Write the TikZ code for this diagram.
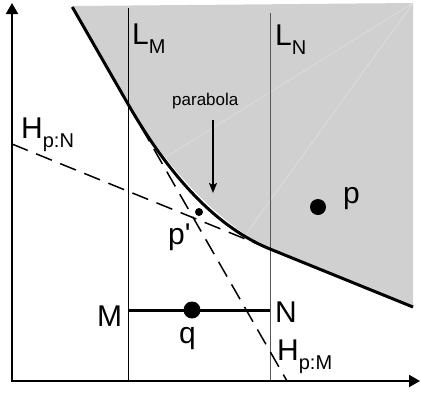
\documentclass[tikz,border=0pt]{standalone}
\usepackage{fontspec}
\setmainfont{Liberation Sans}
\usetikzlibrary{arrows.meta,calc}
\definecolor{regiongray}{RGB}{208,208,208}
\definecolor{faintline}{RGB}{224,224,224}
\definecolor{lngray}{RGB}{85,85,85}
\newcommand{\lowsub}[1]{\raisebox{-9pt}{\fontsize{20}{20}\selectfont #1}}
\begin{document}
\begin{tikzpicture}[x=1pt,y=-1pt,
  biglabel/.style={font=\fontsize{30}{30}\selectfont, inner sep=0pt, anchor=base west},
  smalllabel/.style={font=\fontsize{17}{17}\selectfont, inner sep=0pt, anchor=base west},
  thinline/.style={line width=1pt},
  dashline/.style={line width=1.5pt, dash pattern=on 17pt off 9pt},
  thickline/.style={line width=3pt},
  axisline/.style={line width=2pt, {Triangle[length=11pt,width=12pt]}-{Triangle[length=11pt,width=12pt]}},
  dotnode/.style={circle, fill=black, inner sep=0pt}]
\useasboundingbox (0,0) rectangle (421,392);
% key points
\coordinate (A) at (72.3,7);
\coordinate (B) at (128,104);
\coordinate (C) at (270,249);
\coordinate (D) at (413,307);
\coordinate (HMend) at (287,381);
\coordinate (HNstart) at (12,144);
\coordinate (K) at (intersection of B--HMend and HNstart--C);
\coordinate (K1) at ($(B)!2/3!(K)$);
\coordinate (K2) at ($(C)!2/3!(K)$);
\coordinate (Kf) at ($(K)!0.18!($(B)!0.5!(C)$)$);
\coordinate (Kf1) at ($(B)!2/3!(Kf)$);
\coordinate (Kf2) at ($(C)!2/3!(Kf)$);
\coordinate (TR) at (413,3);
\coordinate (TL) at (74,6);
% gray region
\fill[regiongray] (A) -- (B) .. controls (Kf1) and (Kf2) .. (C) -- (D) -- (TR) -- (TL) -- cycle;
\coordinate (F1) at (163,159);
\coordinate (F2) at (246,234);
\draw[faintline, line width=0.6pt] (TR) -- (F1) (TR) -- (F2);
% vertical lines L_M, L_N
\coordinate (LMtop) at (128,8);
\coordinate (LMbot) at (128,381);
\coordinate (LNtop) at (270,13);
\coordinate (LNbot) at (270,381);
\draw[thinline] (LMtop) -- (LMbot);
\draw[thinline, lngray] (LNtop) -- (LNbot);
% dashed lines
\draw[dashline] (HNstart) -- (C);
\draw[dashline] (B) -- (HMend);
% thick boundary
\draw[thickline] (A) -- (B) .. controls (K1) and (K2) .. (C) -- (D);
% segment MN
\coordinate (Mp) at (128,310);
\coordinate (Np) at (270,310);
\draw[thickline] (Mp) -- (Np);
% axes
\coordinate (O) at (12,381);
\coordinate (Ytop) at (12,3);
\coordinate (Xend) at (420,381);
\draw[axisline] (Ytop) -- (O) -- (Xend);
% dots
\node[dotnode, minimum size=16pt] (pdot) at (318,207) {};
\node[dotnode, minimum size=17pt] (qdot) at (192,310) {};
\node[dotnode, minimum size=8pt] (ppdot) at (199,212) {};
% parabola label and arrow
\node[smalllabel] (parab) at (172,105) {parabola};
\coordinate (ArrS) at (213,120);
\coordinate (ArrE) at (213,193);
\draw[line width=1.5pt, -{Stealth[length=10pt,width=8pt,inset=2pt]}] (ArrS) -- (ArrE);
% labels
\node[biglabel] (lLM) at (132,44) {L\lowsub{M}};
\node[biglabel] (lLN) at (275,45) {L\lowsub{N}};
\node[biglabel] (lHN) at (21,138) {H\lowsub{p:N}};
\node[biglabel] (lHM) at (277,360) {H\lowsub{p:M}};
\node[biglabel] (lM) at (97,326) {M};
\node[biglabel] (lN) at (275,322) {N};
\node[biglabel] (lq) at (179,343) {q};
\node[biglabel] (lp) at (343,203) {p};
\node[biglabel] (lpp) at (168,244) {p\textquotesingle};
\end{tikzpicture}
\end{document}
